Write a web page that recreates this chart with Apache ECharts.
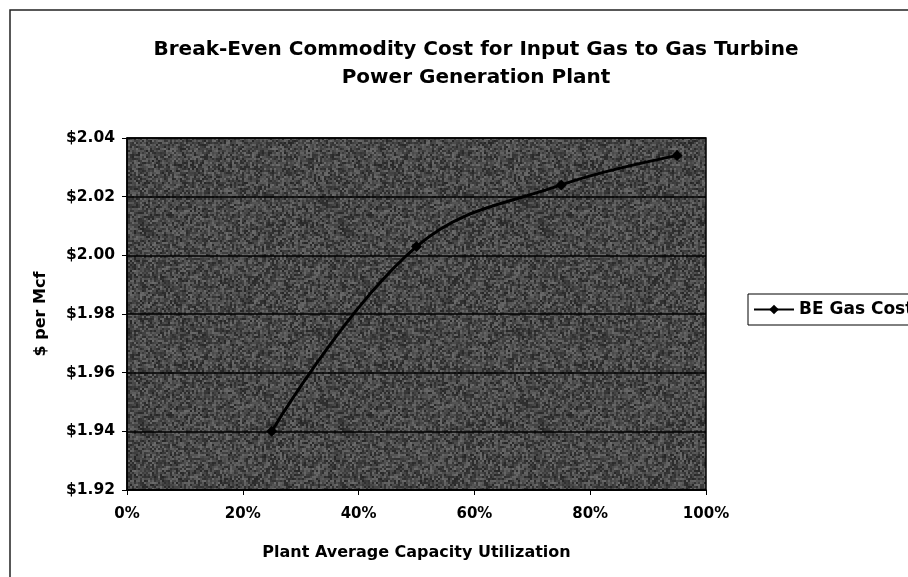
<!DOCTYPE html>
<html>
<head>
<meta charset="utf-8">
<script src="https://cdn.jsdelivr.net/npm/echarts@6/dist/echarts.min.js"></script>
<style>
  html, body { margin: 0; padding: 0; background: #ffffff; }
  #chart { width: 908px; height: 577px; }
</style>
</head>
<body>
<div id="chart"></div>
<script>
// Break-even gas cost against plant capacity utilisation
const utilization = [25, 50, 75, 95];          // % of capacity
const beGasCost = [1.940, 2.003, 2.024, 2.034]; // $ per Mcf
const seriesName = 'BE Gas Cost';
const yTicks = [1.92, 1.94, 1.96, 1.98, 2.00, 2.02, 2.04];
const xTicks = [0, 20, 40, 60, 80, 100];

// grainy dark fill for the plotting area (deterministic speckle)
function grainPattern() {
  const size = 200, cell = 2;
  const c = document.createElement('canvas');
  c.width = size; c.height = size;
  const ctx = c.getContext('2d');
  let s = 12345;
  const next = () => { s = (s * 1103515245 + 12345) & 0x7fffffff; return s / 0x7fffffff; };
  for (let y = 0; y < size; y += cell) {
    for (let x = 0; x < size; x += cell) {
      const v = Math.round(72 + (next() - 0.5) * 70);
      ctx.fillStyle = 'rgb(' + v + ',' + v + ',' + v + ')';
      ctx.fillRect(x, y, cell, cell);
    }
  }
  return c;
}

const chart = echarts.init(document.getElementById('chart'), null, { renderer: 'canvas' });
const FONT = 'DejaVu Sans, Liberation Sans, sans-serif';
const bold = (size, extra) => Object.assign({ fontFamily: FONT, fontWeight: 'bold', color: '#000', fontSize: size }, extra || {});

chart.setOption({
  animation: false,
  backgroundColor: '#ffffff',
  title: {
    text: 'Break-Even Commodity Cost for Input Gas to Gas Turbine\nPower Generation Plant',
    left: 471, top: 31, textAlign: 'center',
    textStyle: bold(20, { lineHeight: 28 })
  },
  graphic: [
    { type: 'polyline', shape: { points: [[10, 577], [10, 10], [908, 10]] }, style: { stroke: '#222', lineWidth: 1.5, fill: null } }
  ],
  legend: {
    left: 748, top: 294, height: 32,
    padding: [7, 5, 7, 5],
    backgroundColor: '#fff', borderColor: '#000', borderWidth: 1,
    itemWidth: 40, itemHeight: 12, itemGap: 6,
    textStyle: bold(17),
    data: [seriesName]
  },
  grid: {
    left: 127, right: 202, top: 138, bottom: 87,
    show: true, borderColor: '#000', borderWidth: 1.5,
    backgroundColor: { image: grainPattern(), repeat: 'repeat' }
  },
  xAxis: {
    type: 'value', min: 0, max: 100, interval: 20,
    name: 'Plant Average Capacity Utilization', nameLocation: 'middle', nameGap: 55,
    nameTextStyle: bold(16),
    axisLine: { lineStyle: { color: '#000', width: 1.5 } },
    axisTick: { show: true, length: 5, lineStyle: { color: '#000' } },
    axisLabel: bold(15, { margin: 17, formatter: v => v + '%' }),
    splitLine: { show: false }
  },
  yAxis: {
    type: 'value', min: 1.92, max: 2.04, interval: 0.02,
    name: '$ per Mcf', nameLocation: 'middle', nameGap: 78, nameRotate: 90,
    nameTextStyle: bold(16),
    axisLine: { lineStyle: { color: '#000', width: 1.5 } },
    axisTick: { show: true, length: 5, lineStyle: { color: '#000' } },
    axisLabel: bold(15.5, { margin: 12, formatter: v => '$' + v.toFixed(2) }),
    splitLine: { show: true, lineStyle: { color: '#000', width: 1.5 } }
  },
  series: [{
    name: seriesName,
    type: 'line',
    smooth: 0.4,
    data: utilization.map((u, i) => [u, beGasCost[i]]),
    symbol: 'diamond', symbolSize: 11,
    lineStyle: { color: '#000', width: 3 },
    itemStyle: { color: '#000' }
  }]
});
</script>
</body>
</html>
